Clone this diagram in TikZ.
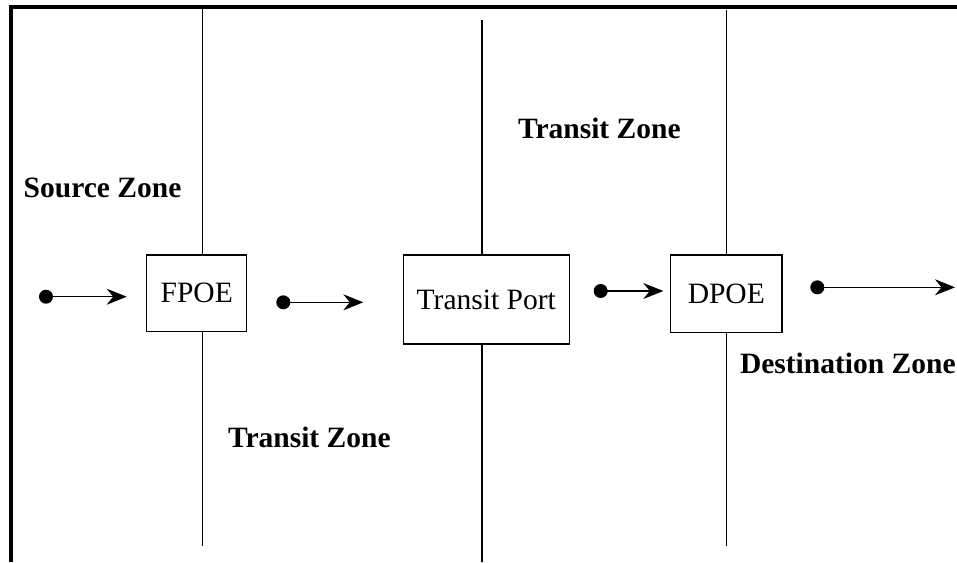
\documentclass[tikz,border=0pt]{standalone}
\usepackage{fontspec}
\setmainfont{Liberation Serif}
\usetikzlibrary{arrows.meta}

\begin{document}
\begin{tikzpicture}[
      x=0.1mm, y=-0.1mm,
      zone line/.style ={line width=0.3pt},
      frame line/.style ={line width=0.9pt},
      poe/.style ={draw,line width=0.35pt,inner sep=0pt,font=\fontsize{8.4}{10}\selectfont},
      zone label/.style ={anchor=base west,inner sep=0pt,font=\fontsize{8.4}{10}\selectfont\bfseries},
      dot/.style ={circle,fill,inner sep=0pt,minimum size=1.4mm},
      flow/.style ={line width=0.3pt,-{Stealth[length=2mm,width=1.6mm]}}]
    \useasboundingbox (0,0) rectangle (957,562);
    \draw[frame line] (9,7) -- (957,7);
    \draw[frame line] (11,7) -- (11,562);
    \node[poe,minimum width=10mm,minimum height=7.67mm] (fpoe) at (196.7,293.3) {FPOE};
    \node[poe,minimum width=16.6mm,minimum height=8.9mm] (port) at (486.3,299.5) {Transit Port};
    \node[poe,minimum width=11.13mm,minimum height=7.77mm] (dpoe) at (726.3,293.8) {DPOE};
    \coordinate (top1) at (202.7,7);
    \coordinate (bot1) at (202.7,545.7);
    \coordinate (top2) at (482,20);
    \coordinate (bot2) at (482,562);
    \coordinate (top3) at (726.7,10);
    \coordinate (bot3) at (726.7,545.7);
    \draw[zone line] (top1) -- (top1 |- fpoe.north) (top1 |- fpoe.south) -- (bot1);
    \draw[zone line] (top2) -- (top2 |- port.north) (top2 |- port.south) -- (bot2);
    \draw[zone line] (top3) -- (top3 |- dpoe.north) (top3 |- dpoe.south) -- (bot3);
    \foreach \i/\xa/\ya/\xb in {1/46/296.7/126.7, 2/283.3/302.3/363.3, 3/600.7/291/663.3, 4/817.3/287.3/955}{
      \node[dot] (from\i) at (\xa,\ya) {};
      \coordinate (to\i) at (\xb,\ya);
      \draw[flow] (from\i.center) -- (to\i);
    }
    \node[zone label] (source) at (23,197) {Source Zone};
    \node[zone label] (transitA) at (517.3,138.3) {Transit Zone};
    \node[zone label] (transitB) at (227.3,447.3) {Transit Zone};
    \node[zone label] (dest) at (739.3,373.3) {Destination Zone};
    \end{tikzpicture}
\end{document}
